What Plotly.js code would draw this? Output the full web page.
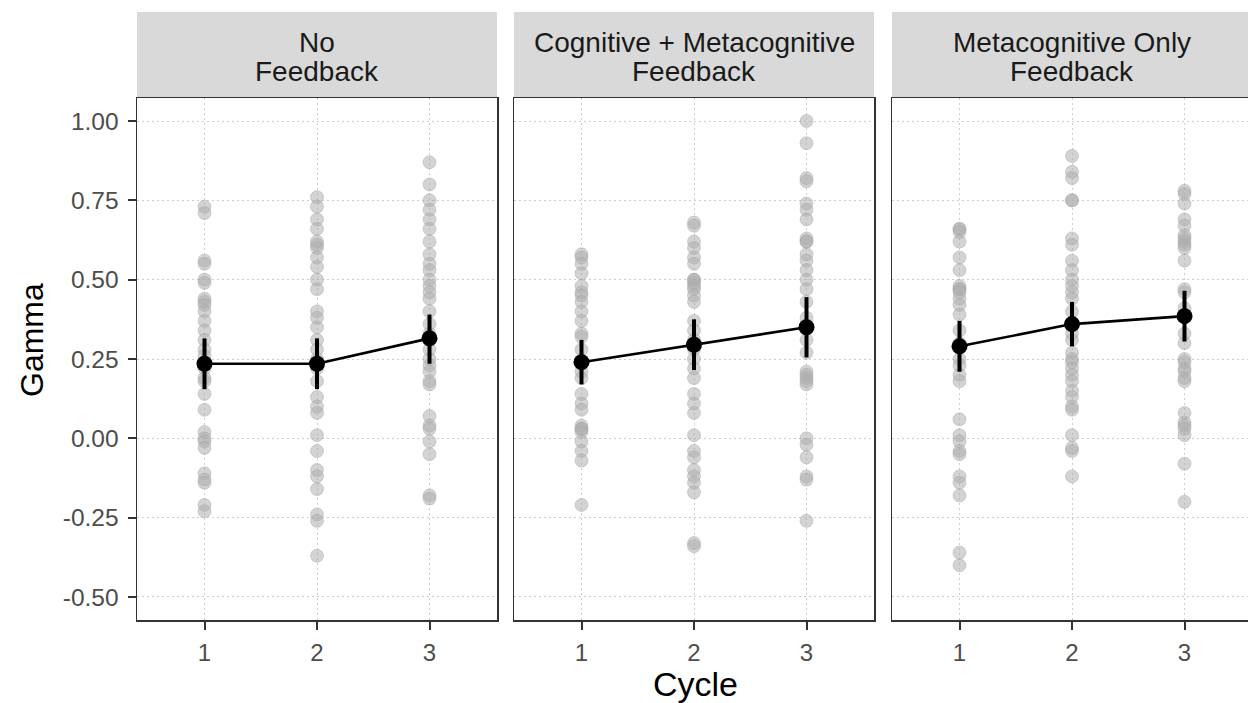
<!DOCTYPE html>
<html>
<head>
<meta charset="utf-8">
<script src="https://cdn.plot.ly/plotly-3.0.1.min.js"></script>
<style>html,body{margin:0;padding:0;background:#fff;}#chart{width:1248px;height:703px;}</style>
</head>
<body>
<div id="chart"></div>
<script>
// ---- data ----
var panels = ["No\nFeedback", "Cognitive + Metacognitive\nFeedback", "Metacognitive Only\nFeedback"];
var cycles = [1, 2, 3];
var cycleLabels = ["1", "2", "3"];
var yTickVals = [1.00, 0.75, 0.50, 0.25, 0.00, -0.25, -0.50];
var yTickText = ["1.00", "0.75", "0.50", "0.25", "0.00", "-0.25", "-0.50"];

// individual gamma values per panel per cycle
var noFb_c1 = [0.73, 0.71, 0.56, 0.55, 0.50, 0.49, 0.44, 0.43, 0.42, 0.40, 0.37, 0.34, 0.31, 0.28, 0.26, 0.24, 0.22, 0.19, 0.18, 0.14, 0.09, 0.02, 0.00, -0.01, -0.03, -0.11, -0.13, -0.14, -0.21, -0.23];
var noFb_c2 = [0.76, 0.73, 0.69, 0.66, 0.62, 0.61, 0.60, 0.57, 0.54, 0.50, 0.47, 0.40, 0.38, 0.35, 0.31, 0.28, 0.25, 0.22, 0.18, 0.13, 0.10, 0.08, 0.01, -0.04, -0.10, -0.12, -0.16, -0.24, -0.26, -0.37];
var noFb_c3 = [0.87, 0.80, 0.75, 0.72, 0.69, 0.66, 0.62, 0.58, 0.55, 0.53, 0.50, 0.48, 0.46, 0.44, 0.40, 0.36, 0.33, 0.28, 0.25, 0.23, 0.21, 0.18, 0.17, 0.07, 0.04, 0.03, -0.01, -0.05, -0.18, -0.19];

var cogMeta_c1 = [0.58, 0.57, 0.55, 0.52, 0.48, 0.46, 0.45, 0.43, 0.40, 0.37, 0.33, 0.32, 0.28, 0.21, 0.19, 0.14, 0.11, 0.09, 0.04, 0.03, 0.03, 0.02, -0.01, -0.04, -0.07, -0.21];
var cogMeta_c2 = [0.68, 0.67, 0.62, 0.60, 0.57, 0.55, 0.50, 0.50, 0.49, 0.48, 0.47, 0.45, 0.43, 0.37, 0.34, 0.31, 0.28, 0.25, 0.22, 0.19, 0.14, 0.11, 0.08, 0.01, -0.04, -0.06, -0.10, -0.12, -0.14, -0.17, -0.33, -0.34];
var cogMeta_c3 = [1.00, 0.93, 0.82, 0.81, 0.74, 0.72, 0.69, 0.63, 0.62, 0.62, 0.58, 0.56, 0.53, 0.50, 0.47, 0.43, 0.38, 0.31, 0.27, 0.21, 0.20, 0.19, 0.18, 0.17, 0.00, -0.02, -0.06, -0.12, -0.13, -0.26];

var metaOnly_c1 = [0.66, 0.66, 0.65, 0.62, 0.57, 0.53, 0.48, 0.47, 0.47, 0.46, 0.44, 0.42, 0.39, 0.34, 0.30, 0.25, 0.23, 0.20, 0.18, 0.06, 0.01, -0.01, -0.04, -0.05, -0.12, -0.14, -0.18, -0.36, -0.40];
var metaOnly_c2 = [0.89, 0.84, 0.82, 0.75, 0.75, 0.63, 0.61, 0.56, 0.53, 0.50, 0.48, 0.46, 0.44, 0.40, 0.33, 0.31, 0.27, 0.25, 0.24, 0.22, 0.20, 0.18, 0.15, 0.13, 0.10, 0.09, 0.01, -0.03, -0.04, -0.12];
var metaOnly_c3 = [0.78, 0.77, 0.74, 0.69, 0.67, 0.64, 0.63, 0.62, 0.61, 0.60, 0.56, 0.47, 0.46, 0.41, 0.33, 0.30, 0.25, 0.24, 0.22, 0.21, 0.19, 0.18, 0.08, 0.05, 0.04, 0.03, 0.01, -0.08, -0.20];

// summary: means and interval bounds per panel
var noFb_mean = [0.235, 0.235, 0.315];
var noFb_lo   = [0.155, 0.155, 0.235];
var noFb_hi   = [0.315, 0.315, 0.390];
var cogMeta_mean = [0.240, 0.295, 0.350];
var cogMeta_lo   = [0.170, 0.215, 0.255];
var cogMeta_hi   = [0.310, 0.375, 0.445];
var metaOnly_mean = [0.290, 0.360, 0.385];
var metaOnly_lo   = [0.210, 0.290, 0.305];
var metaOnly_hi   = [0.370, 0.430, 0.465];

// ---- build ----
var raw = [[noFb_c1, noFb_c2, noFb_c3], [cogMeta_c1, cogMeta_c2, cogMeta_c3], [metaOnly_c1, metaOnly_c2, metaOnly_c3]];
var means = [noFb_mean, cogMeta_mean, metaOnly_mean];
var los = [noFb_lo, cogMeta_lo, metaOnly_lo];
var his = [noFb_hi, cogMeta_hi, metaOnly_hi];

var W = 1248, H = 703;
var xDom = [[137 / W, 497 / W], [514 / W, 874 / W], [892 / W, 1]];
var xRanges = [[0.4, 3.6], [0.4, 3.6], [0.4, 3.6 - 4 / 112.5]];
var yDom = [(H - 620) / H, (H - 98) / H];
var stripTop = (H - 12) / H;
var FONT = "Liberation Sans, Arial, Helvetica, sans-serif";

var traces = [];
var layout = {
  width: W, height: H,
  margin: {l: 0, r: 0, t: 0, b: 0},
  paper_bgcolor: "#ffffff", plot_bgcolor: "#ffffff",
  showlegend: false,
  font: {family: FONT, color: "#4d4d4d"},
  shapes: [], annotations: []
};

for (var p = 0; p < 3; p++) {
  var xa = p === 0 ? "x" : "x" + (p + 1);
  var ya = p === 0 ? "y" : "y" + (p + 1);
  for (var c = 0; c < 3; c++) {
    var vals = raw[p][c];
    traces.push({
      type: "scatter", mode: "markers", xaxis: xa, yaxis: ya,
      x: vals.map(function () { return cycles[c]; }), y: vals,
      marker: {size: 13, color: "rgba(175,175,175,0.55)", line: {width: 1, color: "rgba(160,160,160,0.4)"}},
      hoverinfo: "y", cliponaxis: false
    });
  }
  var m = means[p];
  traces.push({
    type: "scatter", mode: "lines+markers", xaxis: xa, yaxis: ya,
    x: cycles, y: m,
    line: {color: "#000000", width: 2.6},
    marker: {size: 16, color: "#000000"},
    error_y: {type: "data", symmetric: false,
      array: his[p].map(function (h, i) { return h - m[i]; }),
      arrayminus: m.map(function (v, i) { return v - los[p][i]; }),
      color: "#000000", thickness: 4, width: 0}
  });

  var xaxis = {
    domain: xDom[p], range: xRanges[p], anchor: ya,
    tickvals: cycles, ticktext: cycleLabels,
    ticks: "outside", ticklen: 8, tickwidth: 2, tickcolor: "#333333",
    ticklabelstandoff: 3,
    tickfont: {size: 24, color: "#4d4d4d", family: FONT},
    showgrid: true, gridcolor: "#cdcdcd", griddash: "2px,3px", gridwidth: 1,
    zeroline: false, showline: true, linecolor: "#333333", linewidth: 1.5, mirror: true
  };
  var yaxis = {
    domain: yDom, range: [-0.5725, 1.0725], anchor: xa,
    tickvals: yTickVals, ticktext: yTickText,
    showgrid: true, gridcolor: "#cdcdcd", griddash: "2px,3px", gridwidth: 1,
    zeroline: false, showline: true, linecolor: "#333333", linewidth: 1.5,
    mirror: p < 2,
    ticks: p === 0 ? "outside" : "", ticklen: 8, tickwidth: 2, tickcolor: "#333333",
    ticklabelstandoff: 4,
    showticklabels: p === 0,
    tickfont: {size: 24.5, color: "#4d4d4d", family: FONT}
  };
  layout[p === 0 ? "xaxis" : "xaxis" + (p + 1)] = xaxis;
  layout[p === 0 ? "yaxis" : "yaxis" + (p + 1)] = yaxis;

  layout.shapes.push({
    type: "rect", xref: "paper", yref: "paper", layer: "below",
    x0: xDom[p][0], x1: xDom[p][1], y0: yDom[1], y1: stripTop,
    fillcolor: "#d9d9d9", line: {width: 0}
  });
  var lines = panels[p].split("\n");
  var cx = (xDom[p][0] + (p === 2 ? 1252 / W : xDom[p][1])) / 2;
  layout.annotations.push({
    xref: "paper", yref: "paper", x: cx, y: (H - 42) / H, xanchor: "center", yanchor: "middle",
    text: lines[0], showarrow: false, font: {size: 28, color: "#1a1a1a", family: FONT}
  });
  layout.annotations.push({
    xref: "paper", yref: "paper", x: cx, y: (H - 71) / H, xanchor: "center", yanchor: "middle",
    text: lines[1], showarrow: false, font: {size: 28, color: "#1a1a1a", family: FONT}
  });
}

layout.annotations.push({
  xref: "paper", yref: "paper", x: 32 / W, y: (H - 340) / H, xanchor: "center", yanchor: "middle",
  text: "Gamma", textangle: -90, showarrow: false, font: {size: 32, color: "#000000", family: FONT}
});
layout.annotations.push({
  xref: "paper", yref: "paper", x: 695 / W, y: (H - 684) / H, xanchor: "center", yanchor: "middle",
  text: "Cycle", showarrow: false, font: {size: 34, color: "#000000", family: FONT}
});

Plotly.newPlot("chart", traces, layout, {displayModeBar: false, staticPlot: true});
</script>
</body>
</html>
